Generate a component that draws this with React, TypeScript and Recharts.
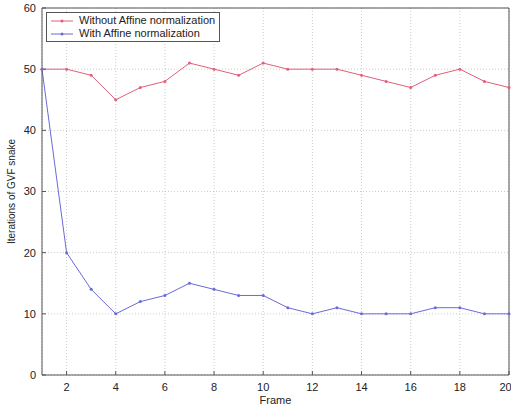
import { LineChart, Line, XAxis, YAxis, CartesianGrid } from 'recharts';

const frames = [1, 2, 3, 4, 5, 6, 7, 8, 9, 10, 11, 12, 13, 14, 15, 16, 17, 18, 19, 20];
const withoutAffine = [50, 50, 49, 45, 47, 48, 51, 50, 49, 51, 50, 50, 50, 49, 48, 47, 49, 50, 48, 47];
const withAffine = [50, 20, 14, 10, 12, 13, 15, 14, 13, 13, 11, 10, 11, 10, 10, 10, 11, 11, 10, 10];
const xTicks = [2, 4, 6, 8, 10, 12, 14, 16, 18, 20];
const yTicks = [0, 10, 20, 30, 40, 50, 60];
const seriesNames = ['Without Affine normalization', 'With Affine normalization'];

const RED = '#e0607a';
const BLUE = '#6a6ad8';
const AXIS = '#555';
const FONT = 'Liberation Sans, Arial, sans-serif';

const data = frames.map((f, i) => ({ frame: f, without: withoutAffine[i], with: withAffine[i] }));

const LegendBox = () => (
  <div
    style={{
      position: 'absolute',
      left: 46,
      top: 12,
      border: '1px solid #555',
      background: '#fff',
      padding: '1px 4px 1px 2px',
      fontFamily: FONT,
      fontSize: 11,
      lineHeight: '13px',
      color: '#222',
      whiteSpace: 'nowrap',
    }}
  >
    {seriesNames.map((label, i) => {
      const color = i === 0 ? RED : BLUE;
      return (
        <div key={label} style={{ display: 'flex', alignItems: 'center' }}>
          <svg width={26} height={8} style={{ marginRight: 4 }}>
            <line x1={2} y1={4} x2={24} y2={4} stroke={color} strokeWidth={1} />
            <circle cx={13} cy={4} r={1.5} fill={color} />
          </svg>
          <span>{label}</span>
        </div>
      );
    })}
  </div>
);

export default function App() {
  const tickStyle = { fontSize: 11, fill: '#222', fontFamily: FONT };
  return (
    <div style={{ position: 'absolute', left: 0, top: 0, width: 511, height: 406 }}>
      <LineChart width={511} height={406} data={data} margin={{ top: 7, right: 1, bottom: 0, left: 0 }}>
        <CartesianGrid xAxisId="b" yAxisId="l" stroke="#cccccc" strokeDasharray="1 2" />
        <XAxis
          xAxisId="b"
          dataKey="frame"
          type="number"
          domain={[1, 20]}
          ticks={xTicks}
          tickSize={-4}
          tickMargin={12}
          height={31}
          stroke={AXIS}
          tick={tickStyle}
          label={{ value: 'Frame', position: 'insideBottom', offset: 2, style: { fontSize: 11, fill: '#222', fontFamily: FONT } }}
        />
        <XAxis
          xAxisId="t"
          orientation="top"
          dataKey="frame"
          type="number"
          domain={[1, 20]}
          ticks={xTicks}
          tickSize={-4}
          tick={false}
          height={1}
          stroke={AXIS}
        />
        <YAxis
          yAxisId="l"
          type="number"
          domain={[0, 60]}
          ticks={yTicks}
          tickSize={-4}
          tickMargin={10}
          width={42}
          stroke={AXIS}
          tick={tickStyle}
          label={{ value: 'Iterations of GVF snake', angle: -90, position: 'insideLeft', offset: 11, style: { fontSize: 10, fill: '#222', fontFamily: FONT, textAnchor: 'middle' } }}
        />
        <YAxis
          yAxisId="r"
          orientation="right"
          type="number"
          domain={[0, 60]}
          ticks={yTicks}
          tickSize={-4}
          tick={false}
          width={1}
          stroke={AXIS}
        />
        <Line
          xAxisId="b"
          yAxisId="l"
          dataKey="without"
          stroke={RED}
          strokeWidth={1}
          dot={{ r: 1.5, fill: RED, stroke: RED, strokeWidth: 0 }}
          isAnimationActive={false}
        />
        <Line
          xAxisId="b"
          yAxisId="l"
          dataKey="with"
          stroke={BLUE}
          strokeWidth={1}
          dot={{ r: 1.5, fill: BLUE, stroke: BLUE, strokeWidth: 0 }}
          isAnimationActive={false}
        />
      </LineChart>
      <LegendBox />
    </div>
  );
}
